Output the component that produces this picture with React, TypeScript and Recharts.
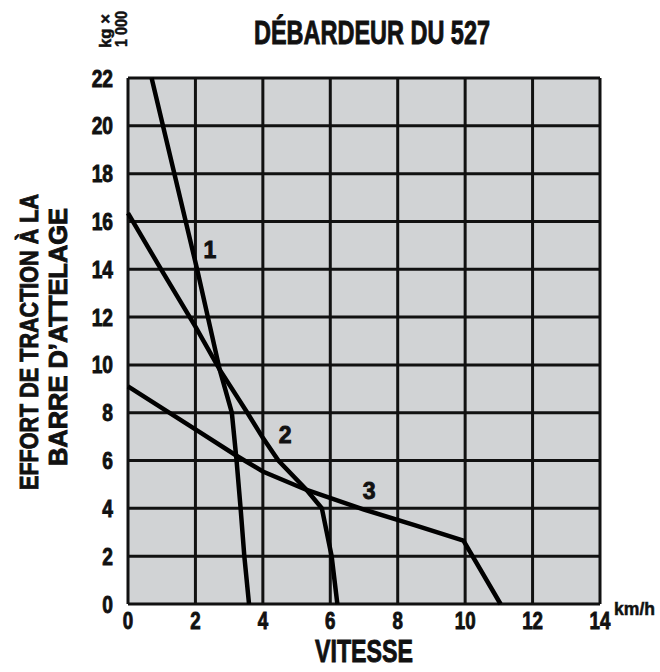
import { CartesianGrid, Line, LineChart, ReferenceDot, XAxis, YAxis } from "recharts"

const xTicks = [0, 2, 4, 6, 8, 10, 12, 14]
const yTicks = [0, 2, 4, 6, 8, 10, 12, 14, 16, 18, 20, 22]

// rapport 1
const curve1 = [
  { x: 0.7, y: 22 },
  { x: 2.05, y: 14 },
  { x: 2.72, y: 9.8 },
  { x: 3.08, y: 8 },
  { x: 3.22, y: 6 },
  { x: 3.34, y: 4 },
  { x: 3.45, y: 2 },
  { x: 3.59, y: 0 },
]

// rapport 2
const curve2 = [
  { x: 0, y: 16.35 },
  { x: 1, y: 13.95 },
  { x: 2, y: 11.6 },
  { x: 2.72, y: 9.8 },
  { x: 3.54, y: 8 },
  { x: 4.0, y: 6.95 },
  { x: 4.46, y: 6 },
  { x: 5.3, y: 4.77 },
  { x: 5.75, y: 4.0 },
  { x: 6.04, y: 2 },
  { x: 6.21, y: 0 },
]

// rapport 3
const curve3 = [
  { x: 0, y: 9.1 },
  { x: 2, y: 7.3 },
  { x: 3.22, y: 6.2 },
  { x: 4, y: 5.54 },
  { x: 5.3, y: 4.77 },
  { x: 7, y: 3.95 },
  { x: 8.5, y: 3.3 },
  { x: 9.95, y: 2.65 },
  { x: 11.05, y: 0 },
]

const curveLabels = [
  { name: "1", x: 2.43, y: 14.8 },
  { name: "2", x: 4.66, y: 7.07 },
  { name: "3", x: 7.15, y: 4.73 },
]

const font = "'Liberation Sans', Arial, sans-serif"
const ink = "#111"
// heavy condensed look: bold face plus a thin outline
const heavy = { fontFamily: font, fontWeight: "bold", fill: ink, stroke: ink, strokeWidth: 0.9 } as const

const XTick = (props: any) => (
  <text transform={`translate(${props.x} ${props.y + 17}) scale(0.78 1)`} textAnchor="middle" fontSize={24} {...heavy}>
    {props.payload.value}
  </text>
)

const YTick = (props: any) => (
  <text transform={`translate(113 ${props.y + 8.5}) scale(0.8 1)`} textAnchor="end" fontSize={24} {...heavy}>
    {props.payload.value}
  </text>
)

export default function App() {
  return (
    <div style={{ position: "absolute", left: 0, top: 0, background: "#fff" }}>
      <LineChart width={660} height={672} margin={{ top: 78, right: 60, bottom: 0, left: 0 }}>
        <CartesianGrid stroke={ink} strokeWidth={3} fill="#d1d3d5" fillOpacity={1} />
        <XAxis
          type="number"
          dataKey="x"
          domain={[0, 14]}
          ticks={xTicks}
          tick={<XTick />}
          tickLine={false}
          axisLine={false}
          height={68}
          allowDuplicatedCategory={false}
        />
        <YAxis
          type="number"
          dataKey="y"
          domain={[0, 22]}
          ticks={yTicks}
          tick={<YTick />}
          tickLine={false}
          axisLine={false}
          width={128}
        />
        <Line data={curve1} dataKey="y" type="linear" stroke="#000" strokeWidth={4.5} dot={false} isAnimationActive={false} />
        <Line data={curve2} dataKey="y" type="linear" stroke="#000" strokeWidth={4.5} dot={false} isAnimationActive={false} />
        <Line data={curve3} dataKey="y" type="linear" stroke="#000" strokeWidth={4.5} dot={false} isAnimationActive={false} />
        {curveLabels.map((l) => (
          <ReferenceDot
            key={l.name}
            x={l.x}
            y={l.y}
            r={0}
            fill="none"
            stroke="none"
            label={{ value: l.name, position: "center", fontSize: 23, ...heavy }}
          />
        ))}
        <text x={372} y={44} textAnchor="middle" fontSize={33} textLength={236} lengthAdjust="spacingAndGlyphs" {...heavy}>
          DÉBARDEUR DU 527
        </text>
        <text transform="translate(111 31) rotate(-90)" textAnchor="middle" fontSize={17} textLength={34} lengthAdjust="spacingAndGlyphs" {...heavy} strokeWidth={0.5}>
          kg ×
        </text>
        <text transform="translate(127 29) rotate(-90)" textAnchor="middle" fontSize={16} textLength={36} lengthAdjust="spacingAndGlyphs" {...heavy} strokeWidth={0.5}>
          1 000
        </text>
        <text x={614} y={615} fontSize={18} textLength={41} lengthAdjust="spacingAndGlyphs" {...heavy} strokeWidth={0.5}>
          km/h
        </text>
        <text x={364} y={662} textAnchor="middle" fontSize={32} textLength={98} lengthAdjust="spacingAndGlyphs" {...heavy}>
          VITESSE
        </text>
        <text transform="translate(38 342) rotate(-90)" textAnchor="middle" fontSize={26} textLength={296} lengthAdjust="spacingAndGlyphs" {...heavy}>
          EFFORT DE TRACTION À LA
        </text>
        <text transform="translate(67 337) rotate(-90)" textAnchor="middle" fontSize={26} textLength={258} lengthAdjust="spacingAndGlyphs" {...heavy}>
          BARRE D’ATTELAGE
        </text>
      </LineChart>
    </div>
  )
}
